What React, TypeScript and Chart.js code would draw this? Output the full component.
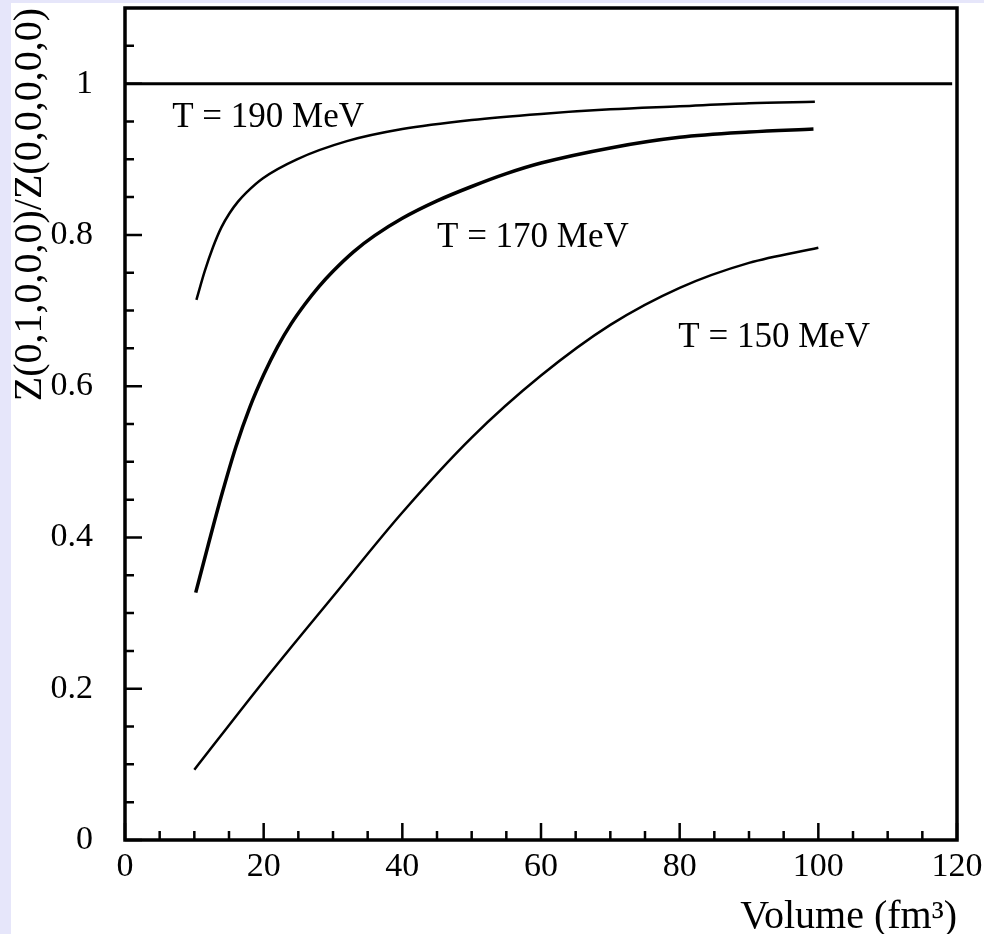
import React, { useEffect, useRef } from 'react';
import { Chart, registerables } from 'chart.js';

Chart.register(...registerables);

// ---- Data ----
const volumeT190 = [10.3, 11.5, 12.7, 13.9, 15.1, 16.3, 17.5, 19.9, 24.8, 32, 40, 50, 60, 70, 80, 90, 99.5];
const ratioT190 = [0.714, 0.752, 0.784, 0.810, 0.829, 0.844, 0.856, 0.875, 0.900, 0.924, 0.940, 0.952, 0.960, 0.966, 0.970, 0.974, 0.976];

const volumeT170 = [10.2, 12, 14, 16, 18, 20, 22, 24, 26, 28, 30, 33, 36, 40, 45, 50, 55, 60, 70, 80, 90, 99.3];
const ratioT170 = [0.327, 0.390, 0.458, 0.520, 0.572, 0.615, 0.652, 0.683, 0.709, 0.732, 0.752, 0.778, 0.799, 0.822, 0.845, 0.864, 0.881, 0.895, 0.915, 0.929, 0.936, 0.940];

const volumeT150 = [10, 20, 30, 40, 50, 60, 70, 80, 90, 100];
const ratioT150 = [0.093, 0.210, 0.322, 0.433, 0.532, 0.614, 0.681, 0.730, 0.763, 0.783];

const refLineVolume = [0, 119.3];
const refLineRatio = [1, 1];

const curveLabels = ['T = 190 MeV', 'T = 170 MeV', 'T = 150 MeV'];
const curveLabelVolume = [6.8, 45.0, 79.8];
const curveLabelRatio = [0.955, 0.796, 0.664];

const xMajorTicks = [0, 20, 40, 60, 80, 100, 120];
const xMinorTicks = [5, 10, 15, 25, 30, 35, 45, 50, 55, 65, 70, 75, 85, 90, 95, 105, 110, 115];
const yMajorTicks = [0, 0.2, 0.4, 0.6, 0.8, 1];
const yMinorTicks = [0.05, 0.1, 0.15, 0.25, 0.3, 0.35, 0.45, 0.5, 0.55, 0.65, 0.7, 0.75, 0.85, 0.9, 0.95, 1.05];

const FONT = '"Liberation Serif", "DejaVu Serif", serif';

const toPoints = (xs: number[], ys: number[]) => xs.map((x, i) => ({ x, y: ys[i] }));

const framePlugin = {
  id: 'frameAndTicks',
  afterDatasetsDraw(chart: any) {
    const { ctx, chartArea, scales } = chart;
    const { left, right, top, bottom } = chartArea;
    const xs = scales.x;
    const ys = scales.y;
    ctx.save();
    ctx.strokeStyle = '#000';
    ctx.lineCap = 'butt';
    ctx.lineWidth = 2.5;
    ctx.beginPath();
    xMajorTicks.forEach((v) => {
      const px = xs.getPixelForValue(v);
      ctx.moveTo(px, bottom);
      ctx.lineTo(px, bottom - 17);
    });
    xMinorTicks.forEach((v) => {
      const px = xs.getPixelForValue(v);
      ctx.moveTo(px, bottom);
      ctx.lineTo(px, bottom - 9);
    });
    yMajorTicks.forEach((v) => {
      const py = ys.getPixelForValue(v);
      ctx.moveTo(left, py);
      ctx.lineTo(left + 17, py);
    });
    yMinorTicks.forEach((v) => {
      const py = ys.getPixelForValue(v);
      ctx.moveTo(left, py);
      ctx.lineTo(left + 9, py);
    });
    ctx.stroke();
    ctx.lineWidth = 3.5;
    ctx.strokeRect(left, top, right - left, bottom - top);

    // curve labels
    ctx.fillStyle = '#000';
    ctx.font = `35px ${FONT}`;
    ctx.textAlign = 'left';
    ctx.textBaseline = 'middle';
    curveLabels.forEach((t, i) => {
      ctx.fillText(t, xs.getPixelForValue(curveLabelVolume[i]), ys.getPixelForValue(curveLabelRatio[i]));
    });
    ctx.restore();
  },
};

export default function App() {
  const canvasRef = useRef<HTMLCanvasElement | null>(null);

  useEffect(() => {
    const canvas = canvasRef.current;
    if (!canvas) return;
    const lineBase = {
      borderColor: '#000',
      pointRadius: 0,
      fill: false,
      cubicInterpolationMode: 'monotone' as const,
    };
    const chart = new Chart(canvas, {
      type: 'line',
      data: {
        datasets: [
          { ...lineBase, label: 'ref', data: toPoints(refLineVolume, refLineRatio), borderWidth: 3 },
          { ...lineBase, label: 'T = 190 MeV', data: toPoints(volumeT190, ratioT190), borderWidth: 2.5 },
          { ...lineBase, label: 'T = 170 MeV', data: toPoints(volumeT170, ratioT170), borderWidth: 3.5 },
          { ...lineBase, label: 'T = 150 MeV', data: toPoints(volumeT150, ratioT150), borderWidth: 2.5 },
        ],
      },
      options: {
        animation: false,
        responsive: false,
        layout: { padding: { top: 5, right: 27, left: 0, bottom: 0 } },
        plugins: { legend: { display: false }, tooltip: { enabled: false } },
        scales: {
          x: {
            type: 'linear',
            min: 0,
            max: 120,
            grid: { display: false, drawTicks: false },
            border: { display: false },
            afterBuildTicks: (s: any) => {
              s.ticks = xMajorTicks.map((v) => ({ value: v }));
            },
            afterFit: (s: any) => {
              s.height = 94;
              s.paddingLeft = 0;
              s.paddingRight = 0;
            },
            ticks: {
              padding: 7,
              color: '#000',
              font: { family: FONT, size: 34 },
              maxRotation: 0,
              autoSkip: false,
              callback: (v: any) => String(v),
            },
            title: {
              display: true,
              text: 'Volume (fm³)',
              align: 'end',
              color: '#000',
              font: { family: FONT, size: 40, lineHeight: 0.85 },
              padding: 0,
            },
          },
          y: {
            type: 'linear',
            min: 0,
            max: 1.1,
            grid: { display: false, drawTicks: false },
            border: { display: false },
            afterBuildTicks: (s: any) => {
              s.ticks = yMajorTicks.map((v) => ({ value: v }));
            },
            afterFit: (s: any) => {
              s.width = 114;
              s.paddingTop = 0;
              s.paddingBottom = 0;
            },
            ticks: {
              padding: 32,
              color: '#000',
              font: { family: FONT, size: 34 },
              autoSkip: false,
              callback: (v: any) => String(v),
            },
            title: {
              display: true,
              text: 'Z(0,1,0,0,0)/Z(0,0,0,0,0)',
              align: 'end',
              color: '#000',
              font: { family: FONT, size: 40, lineHeight: 0.975 },
              padding: 0,
            },
          },
        },
      },
      plugins: [framePlugin],
    });
    return () => chart.destroy();
  }, []);

  return (
    <div style={{ position: 'fixed', inset: 0, background: '#e6e6fa', overflow: 'hidden' }}>
      <canvas
        ref={canvasRef}
        width={973}
        height={931}
        style={{ position: 'absolute', left: 11, top: 3, background: '#fff', display: 'block' }}
      />
    </div>
  );
}
